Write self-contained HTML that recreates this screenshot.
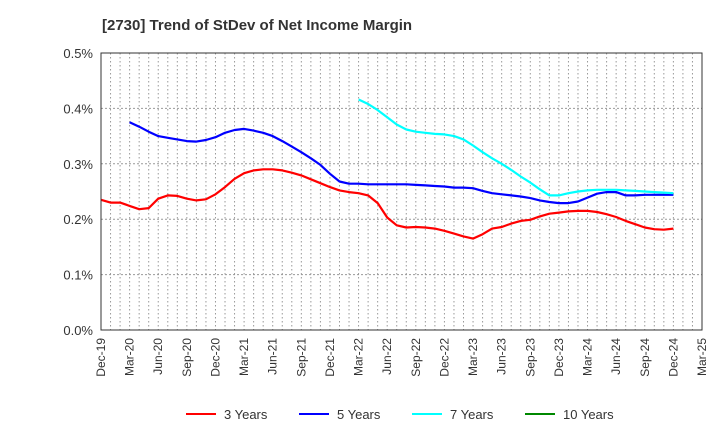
<!DOCTYPE html>
<html><head><meta charset="utf-8"><style>
body{margin:0;background:#fff;font-family:"Liberation Sans",sans-serif;}
svg text{font-family:"Liberation Sans",sans-serif;}
</style></head><body>
<svg id="chart" width="720" height="440" xmlns="http://www.w3.org/2000/svg">
<text x="102" y="30" font-size="15" font-weight="bold" fill="#333">[2730]  Trend of StDev of Net Income Margin</text>
<g id="grid"></g><g id="series"></g><g id="axes"></g>
<g id="legend"></g>
</svg>
<script>
const yTicks=[0,0.1,0.2,0.3,0.4,0.5];
const xLabels=["Dec-19","Mar-20","Jun-20","Sep-20","Dec-20","Mar-21","Jun-21","Sep-21","Dec-21","Mar-22","Jun-22","Sep-22","Dec-22","Mar-23","Jun-23","Sep-23","Dec-23","Mar-24","Jun-24","Sep-24","Dec-24","Mar-25"];
const s3=[235,230,230,224,218,220,237,243,242,237,234,236,245,258,273,283,288,290,290,288,284,279,272,265,258,252,249,247,243,229,203,189,185,186,185,183,179,174,169,165,173,183,186,192,197,199,205,210,212,214,215,215,213,209,204,197,191,185,182,181,183];
const s5=[375,367,358,350,347,344,341,340,343,348,356,361,363,360,356,350,341,331,321,310,298,282,268,264,264,263,263,263,263,263,262,261,260,259,257,257,256,251,247,245,243,241,238,234,231,229,229,232,239,246,249,249,243,243,244,244,244,244];
const s7=[416,408,397,384,371,362,358,356,354,353,350,344,333,321,310,300,289,277,266,254,243,243,247,250,252,253,253,253,252,251,250,249,248,247];
const s5Start=3, s7Start=27;
const X0=101,X1=702,Y0=330,Y1=53,NM=63;
const xs=i=>X0+i*(X1-X0)/NM;
const ys=v=>Y0-v/0.5*(Y0-Y1);
const NS="http://www.w3.org/2000/svg";
function mk(p,t,a){const e=document.createElementNS(NS,t);for(const k in a)e.setAttribute(k,a[k]);p.appendChild(e);return e;}
const grid=document.getElementById('grid'),axes=document.getElementById('axes'),ser=document.getElementById('series'),leg=document.getElementById('legend');
for(let m=1;m<NM;m++){const l=mk(grid,'line',{x1:xs(m),x2:xs(m),y1:Y1,y2:Y0,stroke:'#999','stroke-dasharray':'1.5,2.5'});

}
yTicks.forEach(v=>{if(v>0&&v<0.5){const l=mk(grid,'line',{x1:X0,x2:X1,y1:ys(v),y2:ys(v),stroke:'#999','stroke-dasharray':'2,2'});

}
const t=mk(axes,'text',{x:X0-8,y:ys(v)+5,'text-anchor':'end','font-size':'13',fill:'#333'});t.textContent=v.toFixed(1)+'%';

});
const fr=mk(axes,'rect',{x:X0,y:Y1,width:X1-X0,height:Y0-Y1,fill:'none',stroke:'#333'});


xLabels.forEach((lb,k)=>{const x=xs(k*3);const t=mk(axes,'text',{x:x+4,y:Y0+8,'text-anchor':'end','font-size':'12',fill:'#333',transform:`rotate(-90 ${x+4} ${Y0+8})`});t.textContent=lb;

});
function line(arr,start,col,name){const pts=arr.map((v,i)=>xs(start+i).toFixed(1)+','+ys(v/1000).toFixed(1)).join(' ');
const p=mk(ser,'polyline',{points:pts,fill:'none',stroke:col,'stroke-width':'2.2','stroke-linejoin':'round'});

}
line(s3,0,'#f00','series-3-years');line(s5,s5Start,'#00f','series-5-years');line(s7,s7Start,'#0ff','series-7-years');
const legItems=[["3 Years","#f00",186],["5 Years","#00f",299],["7 Years","#0ff",412],["10 Years","#080",525]];
legItems.forEach(([n,c,x])=>{const g=mk(leg,'g',{});


mk(g,'line',{x1:x,x2:x+30,y1:414,y2:414,stroke:c,'stroke-width':'2'});
const t=mk(g,'text',{x:x+38,y:419,'font-size':'13',fill:'#333'});t.textContent=n;});
</script>
</body></html>
